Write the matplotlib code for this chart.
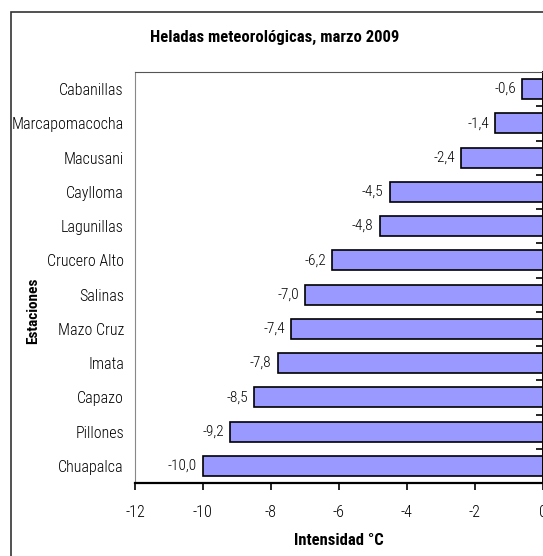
import matplotlib
matplotlib.use("Agg")
import matplotlib.pyplot as plt
from matplotlib.patches import Rectangle

# estaciones y temperaturas minimas (de abajo hacia arriba)
estaciones = ["Chuapalca", "Pillones", "Capazo", "Imata", "Mazo Cruz", "Salinas",
              "Crucero Alto", "Lagunillas", "Caylloma", "Macusani",
              "Marcapomacocha", "Cabanillas"]
intensidad = [-10.0, -9.2, -8.5, -7.8, -7.4, -7.0, -6.2, -4.8, -4.5, -2.4, -1.4, -0.6]
xticks = [-12, -10, -8, -6, -4, -2, 0]

plt.rcParams['font.family'] = ['Roboto Condensed', 'Liberation Sans', 'DejaVu Sans']
plt.rcParams['font.weight'] = 300

W, H = 543, 556
fig = plt.figure(figsize=(W / 100, H / 100), dpi=100)

# marco exterior del grafico
fig.patches.append(Rectangle((11 / W, -0.1), 1.2, (H - 12) / H + 0.1,
                             transform=fig.transFigure, fill=False,
                             edgecolor='#333333', linewidth=1.2))

ax = fig.add_axes([135 / W, (H - 483) / H, 407.5 / W, 411 / H])

y = range(len(estaciones))
ax.barh(y, intensidad, height=0.58, color='#9999FF', edgecolor='black', linewidth=1.2)

for yi, v in zip(y, intensidad):
    ax.text(v - 0.18, yi, f"{v:.1f}".replace('.', ','), ha='right', va='center', fontsize=11)

ax.set_xlim(-12, 0)
ax.set_ylim(-0.5, len(estaciones) - 0.5)
ax.set_xticks(xticks)
ax.set_xticklabels([str(t) for t in xticks], fontsize=11.5)
ax.tick_params(axis='x', direction='out', length=5, width=1.2, pad=11)

ax.set_yticks(list(y))
ax.set_yticklabels(estaciones, fontsize=11.5)
ax.tick_params(axis='y', which='major', length=0, pad=8)
# marcas entre categorias sobre el eje en 0
ax.set_yticks([i + 0.5 for i in range(len(estaciones) - 1)], minor=True)
ax.tick_params(axis='y', which='minor', direction='in', length=5, width=1.2,
               left=False, right=True)

ax.spines['left'].set_color('#888888')
ax.spines['top'].set_color('#555555')
ax.spines['bottom'].set_linewidth(1.6)
ax.spines['right'].set_linewidth(1.4)

ax.set_xlabel("Intensidad °C", fontsize=12, fontweight='bold', labelpad=9)
fig.text(33 / W, 1 - 311 / H, "Estaciones", rotation=90, ha='center', va='center',
         fontsize=11, fontweight='bold')
fig.text(275 / W, 1 - 37 / H, "Heladas meteorológicas, marzo 2009",
         ha='center', va='center', fontsize=12, fontweight='bold')

fig.savefig("out.png", dpi=100)
